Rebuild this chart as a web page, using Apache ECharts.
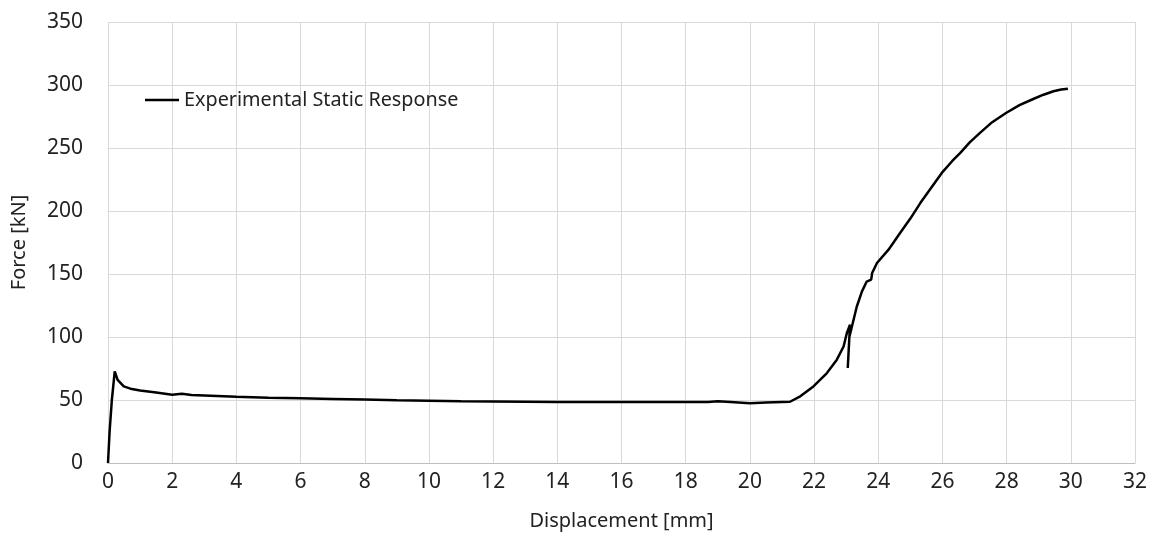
<!DOCTYPE html>
<html><head><meta charset="utf-8">
<script src="https://cdn.jsdelivr.net/npm/echarts@6/dist/echarts.min.js"></script>
<style>html,body{margin:0;padding:0;background:#fff}#c{width:1153px;height:544px}</style>
</head><body><div id="c"></div>
<script>
const seriesName = 'Experimental Static Response';
const dispMm = [0, 0.05, 0.12, 0.21, 0.3, 0.49, 0.7, 1.0, 1.5, 2.0, 2.3, 2.6, 3.2, 4, 5, 6, 7, 8, 9, 10, 11, 12, 13, 14, 15, 16, 17, 18, 18.7, 19, 19.4, 20, 20.5, 21, 21.25, 21.57, 21.98, 22.4, 22.71, 22.92, 23.02, 23.12, 23.05, 23.1, 23.33, 23.49, 23.64, 23.78, 23.81, 23.96, 24.32, 24.68, 25.0, 25.31, 25.65, 25.98, 26.3, 26.55, 26.85, 27.17, 27.55, 27.98, 28.4, 28.83, 29.15, 29.46, 29.7, 29.91];
const forceKN = [0, 25, 50, 72.7, 66, 60.8, 59, 57.6, 56, 54.2, 55, 54, 53.4, 52.5, 51.8, 51.3, 50.8, 50.3, 49.8, 49.5, 49, 48.8, 48.6, 48.4, 48.4, 48.4, 48.4, 48.4, 48.4, 49, 48.4, 47.4, 48, 48.4, 48.6, 52.9, 60.8, 71.4, 82, 92.5, 103, 109.8, 75.4, 100, 124, 136, 144, 145.5, 150.8, 158.7, 169.3, 182.5, 194, 206.3, 218.5, 230.2, 239.5, 246, 254.5, 262, 270.5, 277.8, 284, 288.9, 292.3, 295, 296.4, 297.1];
const xTitle = 'Displacement [mm]';
const yTitle = 'Force [kN]';

const data = dispMm.map((x, i) => [x, forceKN[i]]);
const font = 'Noto Sans';
const chart = echarts.init(document.getElementById('c'), null, {renderer: 'canvas'});
chart.setOption({
  animation: false,
  backgroundColor: '#fff',
  grid: {left: 108, right: 18, top: 22, bottom: 81, containLabel: false, outerBoundsMode: 'none'},
  legend: {
    left: 145, top: 90, padding: 0, itemWidth: 34, itemHeight: 26, itemGap: 2,
    textStyle: {fontFamily: font, fontSize: 19.8, color: '#222'},
    data: [{name: seriesName, icon: 'path://M0,12 L34,12 L34,14.4 L0,14.4 Z'}]
  },
  xAxis: {
    type: 'value', min: 0, max: 32, interval: 2,
    name: xTitle, nameLocation: 'middle', nameGap: 48,
    nameTextStyle: {fontFamily: font, fontSize: 20, color: '#222'},
    axisLine: {show: true, lineStyle: {color: '#bfbfbf', width: 1}},
    axisTick: {show: false},
    axisLabel: {fontFamily: font, fontSize: 21, color: '#222', margin: 9},
    splitLine: {show: true, lineStyle: {color: '#d9d9d9', width: 1}}
  },
  yAxis: {
    type: 'value', min: 0, max: 350, interval: 50,
    name: yTitle, nameLocation: 'middle', nameGap: 79, nameRotate: 90,
    nameTextStyle: {fontFamily: font, fontSize: 20, color: '#222'},
    axisLine: {show: false},
    axisTick: {show: false},
    axisLabel: {fontFamily: font, fontSize: 21, color: '#222', margin: 25},
    splitLine: {show: true, lineStyle: {color: '#d9d9d9', width: 1}}
  },
  series: [{
    name: seriesName, type: 'line', data: data, symbol: 'none', smooth: false,
    lineStyle: {color: '#000', width: 2.5}, itemStyle: {color: '#000'}
  }]
});
</script></body></html>
